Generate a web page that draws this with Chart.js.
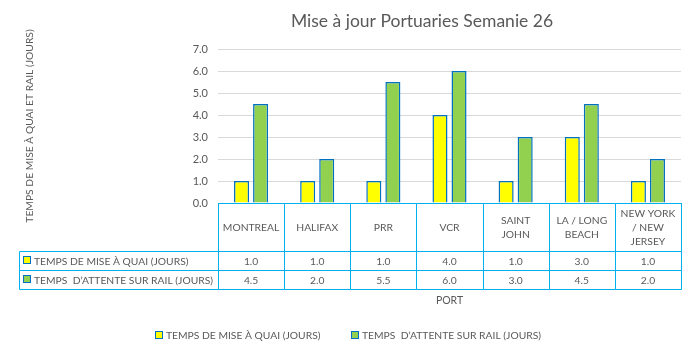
<!DOCTYPE html>
<html>
<head>
<meta charset="utf-8">
<script src="https://cdn.jsdelivr.net/npm/chart.js@4"></script>
<style>
html,body{margin:0;padding:0;background:#fff;}
#wrap{width:696px;height:355px;}
</style>
</head>
<body>
<div id="wrap"><canvas id="c" width="696" height="355"></canvas></div>
<script>
const chartTitle = "Mise à jour Portuaries Semanie 26";
const yAxisTitle = "TEMPS DE MISE À QUAI ET RAIL (JOURS)";
const xAxisTitle = "PORT";
const categories = [["MONTREAL"], ["HALIFAX"], ["PRR"], ["VCR"], ["SAINT", "JOHN"], ["LA / LONG", "BEACH"], ["NEW YORK", "/ NEW", "JERSEY"]];
const seriesNames = ["TEMPS DE MISE À QUAI (JOURS)", "TEMPS  D\u2019ATTENTE SUR RAIL (JOURS)"];
const quaiValues = [1.0, 1.0, 1.0, 4.0, 1.0, 3.0, 1.0];
const railValues = [4.5, 2.0, 5.5, 6.0, 3.0, 4.5, 2.0];
const yTicks = [0, 1, 2, 3, 4, 5, 6, 7];

const FONT = "Lato, 'Liberation Sans', sans-serif";
const TEXT = '#595959';
const TABLE_LINE = '#00B0F0';
const BAR_BORDER = '#0070C0';
const FILLS = ['#FFFF00', '#92D050'];

function drawKey(ctx, x, cy, k) {
  ctx.fillStyle = FILLS[k];
  ctx.fillRect(x, Math.round(cy) - 4.5, 7, 7);
  ctx.strokeStyle = BAR_BORDER;
  ctx.lineWidth = 1;
  ctx.strokeRect(x, Math.round(cy) - 4.5, 7, 7);
}

const tablePlugin = {
  id: 'dataTable',
  afterDraw(chart) {
    const ctx = chart.ctx;
    const area = chart.chartArea;
    const x = chart.scales.x;
    const n = categories.length;
    const cw = (area.right - area.left) / n;
    const tLeft = 19.5;
    const top = Math.round(area.bottom) + 0.5;
    const hdrB = top + 48;
    const r1 = hdrB + 19;
    const r2 = r1 + 19;
    const right = Math.round(area.right) + 0.5;
    ctx.save();
    // chart title
    ctx.fillStyle = TEXT;
    ctx.font = '17.5px ' + FONT;
    ctx.textAlign = 'center';
    ctx.textBaseline = 'middle';
    ctx.fillText(chartTitle, 422, 21);

    ctx.strokeStyle = TABLE_LINE;
    ctx.lineWidth = 1;
    ctx.beginPath();
    [hdrB, r1, r2].forEach(y => { ctx.moveTo(tLeft, y); ctx.lineTo(right, y); });
    ctx.moveTo(Math.round(area.left) + 0.5, top); ctx.lineTo(right, top);
    ctx.moveTo(tLeft, hdrB); ctx.lineTo(tLeft, r2);
    for (let i = 0; i <= n; i++) {
      const vx = Math.round(area.left + i * cw) + 0.5;
      ctx.moveTo(vx, top); ctx.lineTo(vx, r2);
    }
    ctx.stroke();

    ctx.fillStyle = TEXT;
    ctx.font = '10.3px ' + FONT;
    const lineH = 14;
    categories.forEach((lines, i) => {
      const cx = x.getPixelForValue(i);
      const cy = (top + hdrB) / 2;
      const y0 = cy - (lines.length - 1) * lineH / 2;
      lines.forEach((t, j) => ctx.fillText(t, cx, y0 + j * lineH));
      ctx.fillText(quaiValues[i].toFixed(1), cx, (hdrB + r1) / 2 + 0.5);
      ctx.fillText(railValues[i].toFixed(1), cx, (r1 + r2) / 2 + 0.5);
    });
    ctx.textAlign = 'left';
    [[hdrB, r1], [r1, r2]].forEach((rr, k) => {
      const cy = (rr[0] + rr[1]) / 2;
      drawKey(ctx, 23.5, cy, k);
      ctx.fillStyle = TEXT;
      ctx.fillText(seriesNames[k], 34, cy + 0.5);
    });

    // legend
    const w0 = ctx.measureText(seriesNames[0]).width;
    const w1 = ctx.measureText(seriesNames[1]).width;
    const total = 8 + 3 + w0 + 31 + 8 + 3 + w1;
    let lx = Math.round(348.5 - total / 2) + 0.5;
    const ly = 335.5;
    [w0, w1].forEach((w, k) => {
      drawKey(ctx, lx, ly, k);
      ctx.fillStyle = TEXT;
      ctx.fillText(seriesNames[k], lx + 10.5, ly + 0.5);
      lx = Math.round(lx + 10.5 + w + 31) + 0.5;
    });
    ctx.restore();
  }
};

new Chart(document.getElementById('c'), {
  type: 'bar',
  data: {
    labels: categories,
    datasets: [
      { label: seriesNames[0], data: quaiValues, backgroundColor: FILLS[0], borderColor: BAR_BORDER, borderWidth: 1.5, categoryPercentage: 0.576, barPercentage: 0.79 },
      { label: seriesNames[1], data: railValues, backgroundColor: FILLS[1], borderColor: BAR_BORDER, borderWidth: 1.5, categoryPercentage: 0.576, barPercentage: 0.79 }
    ]
  },
  options: {
    responsive: false,
    animation: false,
    layout: { padding: { left: 19, right: 15, top: 49, bottom: 0 } },
    plugins: {
      title: { display: false },
      legend: { display: false },
      tooltip: { enabled: false }
    },
    scales: {
      x: {
        grid: { display: false },
        border: { display: true, color: TABLE_LINE, width: 1 },
        ticks: { display: false },
        title: { display: true, text: xAxisTitle, color: TEXT, font: { family: FONT, size: 10.5 }, padding: { top: 0, bottom: 47.7 } },
        afterFit(scale) { scale.height = 152; }
      },
      y: {
        min: 0, max: 7,
        afterBuildTicks(scale) { scale.ticks = yTicks.map(v => ({ value: v })); },
        grid: { color: '#D9D9D9', drawTicks: false },
        border: { display: false },
        ticks: { color: TEXT, font: { family: FONT, size: 11 }, padding: 10, callback: v => Number(v).toFixed(1) },
        title: { display: true, text: yAxisTitle, color: TEXT, font: { family: FONT, size: 10.3 }, padding: { top: 4, bottom: 4 } },
        afterFit(scale) { scale.width = 199; }
      }
    }
  },
  plugins: [tablePlugin]
});
</script>
</body>
</html>
